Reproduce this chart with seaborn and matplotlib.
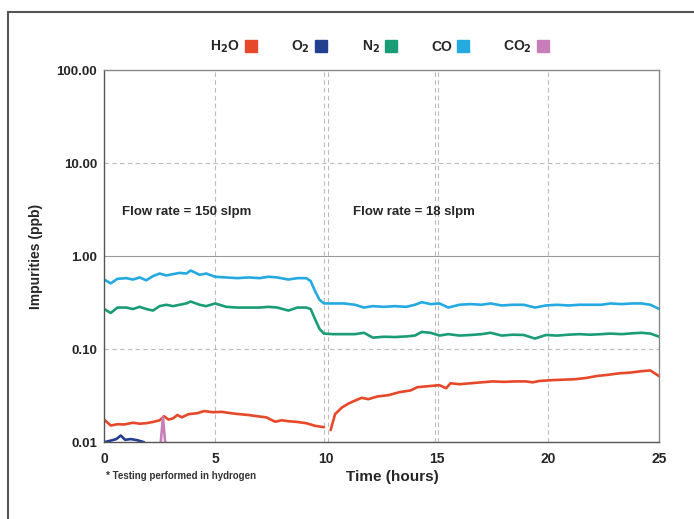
import pandas as pd
import matplotlib.pyplot as plt
import seaborn as sns
from matplotlib.lines import Line2D

# hand-read values from the reference chart (ppb vs hours)
hours = [0, 0.3, 0.6, 1.0, 1.3, 1.6, 1.9, 2.2, 2.5, 2.8,
         3.1, 3.4, 3.7, 3.9, 4.3, 4.6, 5.0, 5.5, 6.0, 6.5,
         7.0, 7.4, 7.8, 8.3, 8.7, 9.1, 9.3, 9.5, 9.7, 9.9,
         10.3, 10.8, 11.3, 11.7, 12.1, 12.6, 13.1, 13.6, 14.0, 14.3,
         14.7, 15.1, 15.5, 16.0, 16.5, 17.0, 17.4, 17.9, 18.4, 18.9,
         19.4, 19.9, 20.4, 20.9, 21.4, 21.9, 22.4, 22.8, 23.3, 23.8,
         24.2, 24.6, 25.0]
co_ppb = [0.56, 0.51, 0.57, 0.58, 0.56, 0.59, 0.55, 0.61, 0.65, 0.62,
          0.64, 0.66, 0.65, 0.70, 0.63, 0.65, 0.60, 0.59, 0.58, 0.59,
          0.58, 0.60, 0.59, 0.56, 0.58, 0.58, 0.54, 0.42, 0.34, 0.31,
          0.31, 0.31, 0.30, 0.28, 0.29, 0.285, 0.29, 0.285, 0.30, 0.32,
          0.305, 0.31, 0.28, 0.30, 0.305, 0.30, 0.31, 0.295, 0.30, 0.30,
          0.28, 0.295, 0.30, 0.295, 0.30, 0.30, 0.30, 0.31, 0.305, 0.31,
          0.31, 0.30, 0.27]
n2_ppb = [0.27, 0.245, 0.28, 0.28, 0.27, 0.285, 0.27, 0.26, 0.29, 0.30,
          0.29, 0.30, 0.31, 0.325, 0.30, 0.29, 0.31, 0.285, 0.28, 0.28,
          0.28, 0.285, 0.28, 0.26, 0.28, 0.28, 0.27, 0.21, 0.165, 0.147,
          0.145, 0.145, 0.145, 0.15, 0.133, 0.136, 0.135, 0.137, 0.14, 0.153,
          0.15, 0.14, 0.145, 0.14, 0.142, 0.145, 0.15, 0.14, 0.143, 0.142,
          0.13, 0.142, 0.14, 0.143, 0.145, 0.143, 0.145, 0.147, 0.145, 0.148,
          0.15, 0.147, 0.136]

h2o_hours_a = [0, 0.3, 0.6, 0.9, 1.3, 1.6, 1.9, 2.2, 2.5, 2.7,
               2.9, 3.1, 3.3, 3.5, 3.8, 4.2, 4.5, 4.9, 5.3, 5.7,
               6.1, 6.5, 6.9, 7.3, 7.7, 8.0, 8.3, 8.7, 9.1, 9.5, 9.9]
h2o_ppb_a = [0.0175, 0.0151, 0.0156, 0.0155, 0.0162, 0.0158, 0.016, 0.0165, 0.0172, 0.019,
             0.0175, 0.018, 0.0196, 0.0185, 0.020, 0.0205, 0.0216, 0.021, 0.0212, 0.0205,
             0.020, 0.0196, 0.019, 0.0185, 0.0166, 0.0172, 0.0168, 0.0165, 0.016, 0.015, 0.0145]
h2o_hours_b = [10.2, 10.4, 10.7, 11.0, 11.3, 11.6, 11.9, 12.3, 12.8, 13.3,
               13.8, 14.1, 14.6, 15.1, 15.4, 15.6, 16.0, 16.5, 17.0, 17.5,
               18.0, 18.5, 19.0, 19.3, 19.6, 20.2, 20.7, 21.2, 21.7, 22.2,
               22.7, 23.2, 23.7, 24.2, 24.6, 25.0]
h2o_ppb_b = [0.0135, 0.020, 0.0235, 0.026, 0.028, 0.030, 0.029, 0.031, 0.032, 0.0345,
             0.036, 0.039, 0.040, 0.041, 0.038, 0.043, 0.042, 0.043, 0.044, 0.045,
             0.0445, 0.045, 0.045, 0.044, 0.0455, 0.0465, 0.047, 0.0475, 0.049, 0.0515,
             0.053, 0.055, 0.056, 0.058, 0.059, 0.051]

o2_hours = [0, 0.3, 0.55, 0.75, 0.95, 1.2, 1.5, 1.8]
o2_ppb = [0.0100, 0.0104, 0.0108, 0.0118, 0.0106, 0.0108, 0.0105, 0.0100]
co2_hours = [2.55, 2.65, 2.75]
co2_ppb = [0.0099, 0.0185, 0.0099]

species = ['H$_2$O', 'O$_2$', 'N$_2$', 'CO', 'CO$_2$']
colors = ['#e8482a', '#23408e', '#1a9c74', '#24a9e1', '#c77db8']
y_ticks = [0.01, 0.1, 1, 10, 100]
y_labels = ['0.01', '0.10', '1.00', '10.00', '100.00']

sns.set_style("white")
plt.rcParams['font.family'] = ['Liberation Sans', 'DejaVu Sans']
plt.rcParams['font.weight'] = 'bold'
plt.rcParams['mathtext.default'] = 'bf'

fig = plt.figure(figsize=(6.94, 5.19), dpi=100)
ax = fig.add_axes([0.150, 0.148, 0.800, 0.717])

series = [
    (h2o_hours_a, h2o_ppb_a, colors[0]),
    (h2o_hours_b, h2o_ppb_b, colors[0]),
    (o2_hours, o2_ppb, colors[1]),
    (hours, n2_ppb, colors[2]),
    (hours, co_ppb, colors[3]),
    (co2_hours, co2_ppb, colors[4]),
]
for xs, ys, c in series:
    sns.lineplot(x=xs, y=ys, color=c, linewidth=1.9, ax=ax, estimator=None, sort=False)

ax.set_yscale('log')
ax.set_ylim(0.01, 100)
ax.set_xlim(0, 25)
ax.set_yticks(y_ticks)
ax.set_yticklabels(y_labels)
ax.minorticks_off()
ax.set_xticks([0, 5, 10, 15, 20, 25])
ax.tick_params(axis='y', labelsize=9.5, length=0, pad=5)
ax.tick_params(axis='x', labelsize=10, length=0, pad=7)
for lab in ax.get_xticklabels() + ax.get_yticklabels():
    lab.set_fontweight('bold')

# grid
grid_kw = dict(color='#bbbbbb', linestyle=(0, (4, 3)), linewidth=0.8, zorder=0)
for yv in [0.1, 10]:
    ax.axhline(yv, **grid_kw)
ax.axhline(1, color='#999999', linewidth=0.8, zorder=0)
for xv in [5, 9.9, 10.1, 14.9, 15.05, 20]:
    ax.axvline(xv, **grid_kw)

for sp in ax.spines.values():
    sp.set_color('#888888')
    sp.set_linewidth(1)
ax.spines['left'].set_color('#555555')
ax.spines['bottom'].set_color('#555555')

ax.set_xlabel('Time (hours)', fontsize=11, fontweight='bold', labelpad=4)
ax.xaxis.set_label_coords(0.52, -0.075)
ax.set_ylabel('Impurities (ppb)', fontsize=10, fontweight='bold', labelpad=10)

ax.text(0.8, 2.95, 'Flow rate = 150 slpm', fontsize=9.5, fontweight='bold', va='center')
ax.text(11.2, 2.95, 'Flow rate = 18 slpm', fontsize=9.5, fontweight='bold', va='center')
fig.text(0.153, 0.077, '* Testing performed in hydrogen', fontsize=7, fontweight='bold', color='#333333')

# legend with square markers after text
handles = [Line2D([], [], marker='s', linestyle='none', markersize=9, color=c) for c in colors]
leg = fig.legend(handles, species, loc='center', bbox_to_anchor=(0.548, 0.909), ncol=5,
                 frameon=False, markerfirst=False, handletextpad=0.3, columnspacing=2.4,
                 fontsize=10, handlelength=1.0)
for t in leg.get_texts():
    t.set_fontweight('bold')

# outer frame
fig.add_artist(Line2D([8 / 694, 8 / 694], [0, 1 - 12 / 519], color='#555555', linewidth=1.5))
fig.add_artist(Line2D([8 / 694, 1], [1 - 12 / 519, 1 - 12 / 519], color='#555555', linewidth=1.5))

fig.savefig('out.png', dpi=100)
